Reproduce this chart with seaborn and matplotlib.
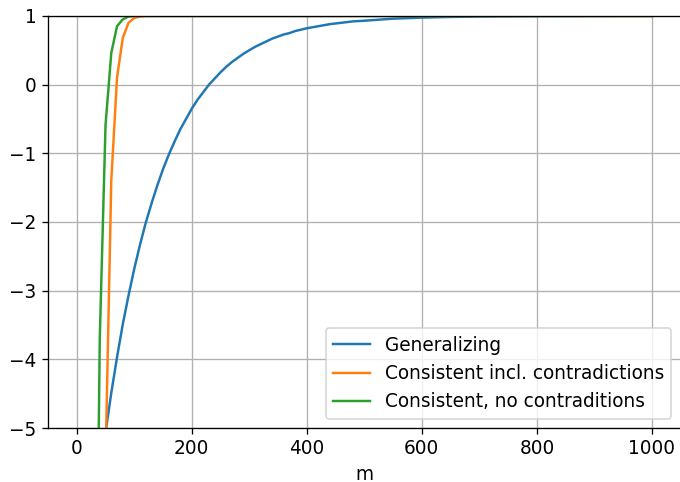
import pandas as pd
import matplotlib
matplotlib.use("Agg")
import matplotlib.pyplot as plt
import seaborn as sns

# values
m_gen = [40, 50, 60, 70, 80, 90, 100, 110, 120, 130, 140, 150, 160, 170, 180, 190,
         200, 210, 220, 230, 240, 250, 260, 270, 280, 290, 300, 310, 320, 330, 340,
         350, 360, 370, 380, 390, 400, 420, 440, 460, 480, 500, 550, 600, 650,
         700, 800, 900, 1000]
v_gen = [-5.70, -5.07, -4.49, -3.97, -3.49, -3.07, -2.68, -2.33, -2.01, -1.73, -1.47,
         -1.23, -1.02, -0.83, -0.65, -0.50, -0.35, -0.22, -0.11, 0.00, 0.09, 0.18,
         0.26, 0.33, 0.39, 0.45, 0.50, 0.55, 0.59, 0.63, 0.67, 0.70, 0.73, 0.75,
         0.78, 0.80, 0.82, 0.85, 0.88, 0.90, 0.92, 0.93, 0.96, 0.975, 0.985,
         0.991, 0.997, 0.999, 1.0]

m_incl = [40, 50, 60, 70, 80, 90, 100, 110, 120, 1000]
v_incl = [-15.0, -5.5, -1.4, 0.1, 0.68, 0.9, 0.97, 0.99, 1.0, 1.0]

m_nocon = [30, 40, 50, 60, 70, 80, 90, 100, 1000]
v_nocon = [-11.0, -3.7, -0.59, 0.46, 0.85, 0.95, 0.99, 1.0, 1.0]

series = [
    ("Generalizing", m_gen, v_gen, "C0"),
    ("Consistent incl. contradictions", m_incl, v_incl, "C1"),
    ("Consistent, no contraditions", m_nocon, v_nocon, "C2"),
]

plt.rcParams["font.size"] = 11.3

dpi = 118
fig, ax = plt.subplots(figsize=(680 / dpi, 482 / dpi), dpi=dpi)
fig.subplots_adjust(left=0.0706, right=1.001, bottom=0.112, top=0.967)

for name, m, v, col in series:
    df = pd.DataFrame({"m": m, "value": v})
    sns.lineplot(data=df, x="m", y="value", color=col, label=name, ax=ax, linewidth=1.5)

ax.set_xlim(-50, 1050)
ax.set_ylim(-5, 1)
ax.set_xlabel("m")
ax.set_ylabel("")
ax.grid(True)
ax.legend(loc="lower right")

fig.savefig("out.png", dpi=dpi)
